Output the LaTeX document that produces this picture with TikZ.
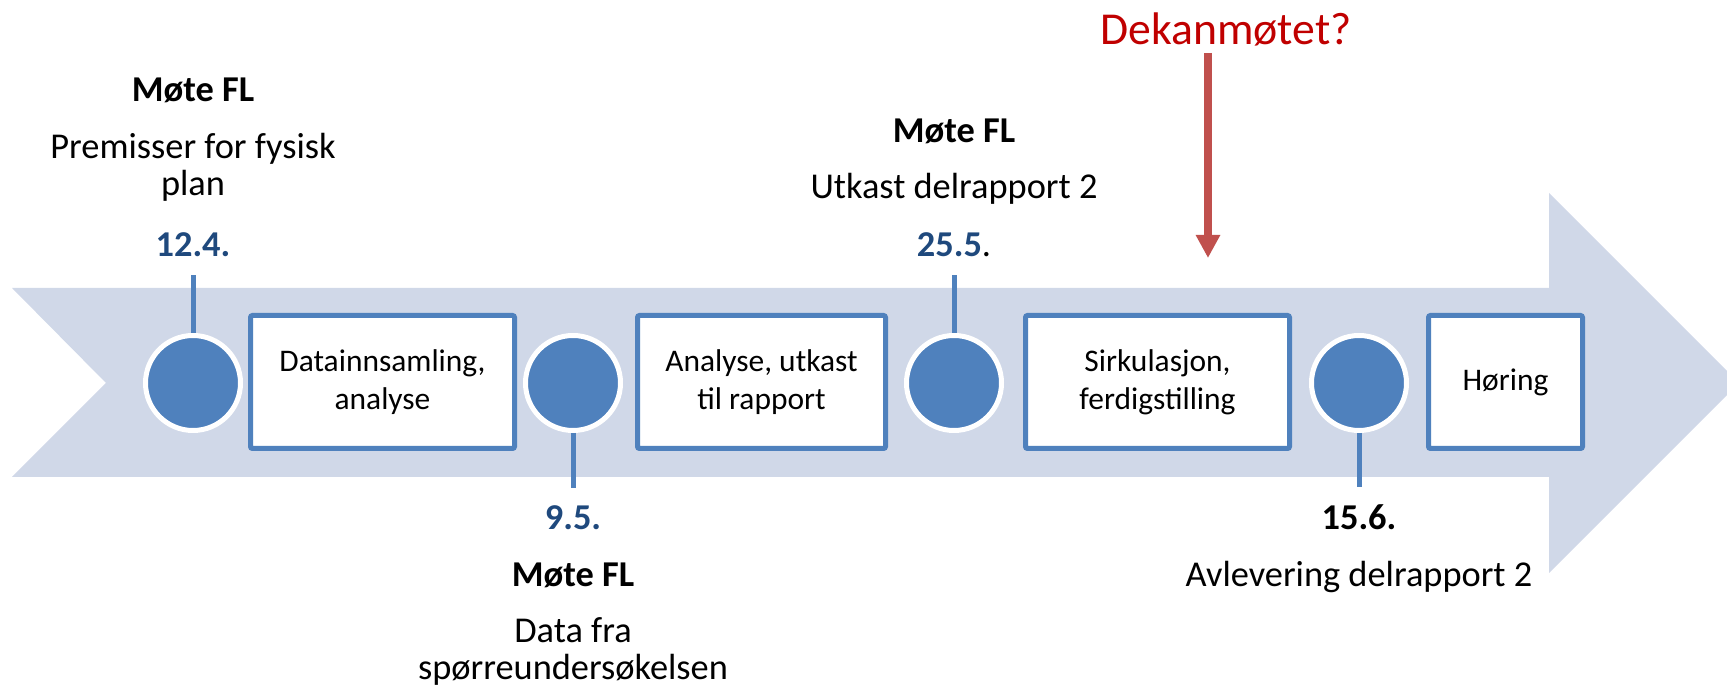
\documentclass[tikz,border=0pt]{standalone}
\usepackage{fontspec}
\setmainfont{Carlito}
\usetikzlibrary{arrows.meta}
\definecolor{bandfill}{HTML}{D0D8E8}
\definecolor{stepblue}{HTML}{4F81BD}
\definecolor{datecol}{HTML}{1F497D}
\definecolor{dekanred}{HTML}{C00000}
\definecolor{dekanpil}{HTML}{C0504D}
\begin{document}
\begin{tikzpicture}[
    milestone/.style={circle, fill=stepblue, draw=white, line width=0.1cm, minimum size=1.9cm, inner sep=0pt},
    phase/.style={draw=stepblue, fill=white, line width=0.1cm, rounded corners=0.04cm, minimum width=#1, minimum height=2.66cm, inner sep=0pt, align=center, font=\fontsize{17.9}{21.5}\selectfont},
    title/.style={anchor=base, font=\fontsize{20.7}{21.5}\selectfont\bfseries},
    desc/.style={anchor=base, align=center, font=\fontsize{20.7}{21.5}\selectfont},
    date/.style={anchor=base, inner ysep=10pt, text=datecol, font=\fontsize{20.7}{21.5}\selectfont\bfseries},
    pin/.style={draw=stepblue, line width=0.1cm}
]
        \useasboundingbox (0,0) rectangle (34.54,13.8);
        \begin{scope}
        \clip (0,0) rectangle (34.54,13.8);
        \fill[bandfill] (0.24,8.04) -- (30.98,8.04) -- (30.98,9.94) -- (34.78,6.14) -- (30.98,2.34) -- (30.98,4.26) -- (0.24,4.26) -- (2.12,6.14) -- cycle;
        \end{scope}
        \node[milestone] (c1) at (3.86,6.14) {};
        \node[milestone] (c2) at (11.46,6.14) {};
        \node[milestone] (c3) at (19.08,6.14) {};
        \node[milestone] (c4) at (27.18,6.14) {};
        \node[phase=5.28cm] (p1) at (7.65,6.16) {Datainnsamling,\\analyse};
        \node[phase=4.96cm] (p2) at (15.23,6.16) {Analyse, utkast\\til rapport};
        \node[phase=5.28cm] (p3) at (23.15,6.16) {Sirkulasjon,\\ferdigstilling};
        \node[phase=3.08cm] (p4) at (30.11,6.16) {Høring};
        % base of a two-line node is its last line
        \node[title] (t1) at (3.86,11.76) {Møte FL};
        \node[desc] (m1) at (3.86,9.88) {Premisser for fysisk\\plan};
        \node[date] (d1) at (3.86,8.66) {12.4.};
        \node[date] (d2) at (11.46,3.2) {9.5.};
        \node[title] (t2) at (11.46,2.06) {Møte FL};
        \node[desc] (m2) at (11.46,0.2) {Data fra\\spørreundersøkelsen};
        \node[title] (t3) at (19.08,10.94) {Møte FL};
        \node[desc] (m3) at (19.08,9.82) {Utkast delrapport 2};
        \node[date] (d3) at (19.08,8.66) {25.5\textcolor{black}{\mdseries.}};
        \node[date, text=black] (d4) at (27.18,3.2) {15.6.};
        \node[desc] (m4) at (27.18,2.06) {Avlevering delrapport 2};
        \draw[pin] (d1.south) -- (c1.north);
        \draw[pin] (c2.south) -- (d2.north);
        \draw[pin] (d3.south) -- (c3.north);
        \draw[pin] (c4.south) -- (d4.north);
        \node[anchor=base, text=dekanred, font=\fontsize{26}{30}\selectfont] (dekan) at (24.52,12.9) {Dekanmøtet?};
        \coordinate (dtip) at (24.16,8.64);
        \draw[dekanpil, line width=0.16cm, -{Triangle[width=0.46cm, length=0.46cm]}] (dtip |- dekan.south) -- (dtip);
\end{tikzpicture}
\end{document}
